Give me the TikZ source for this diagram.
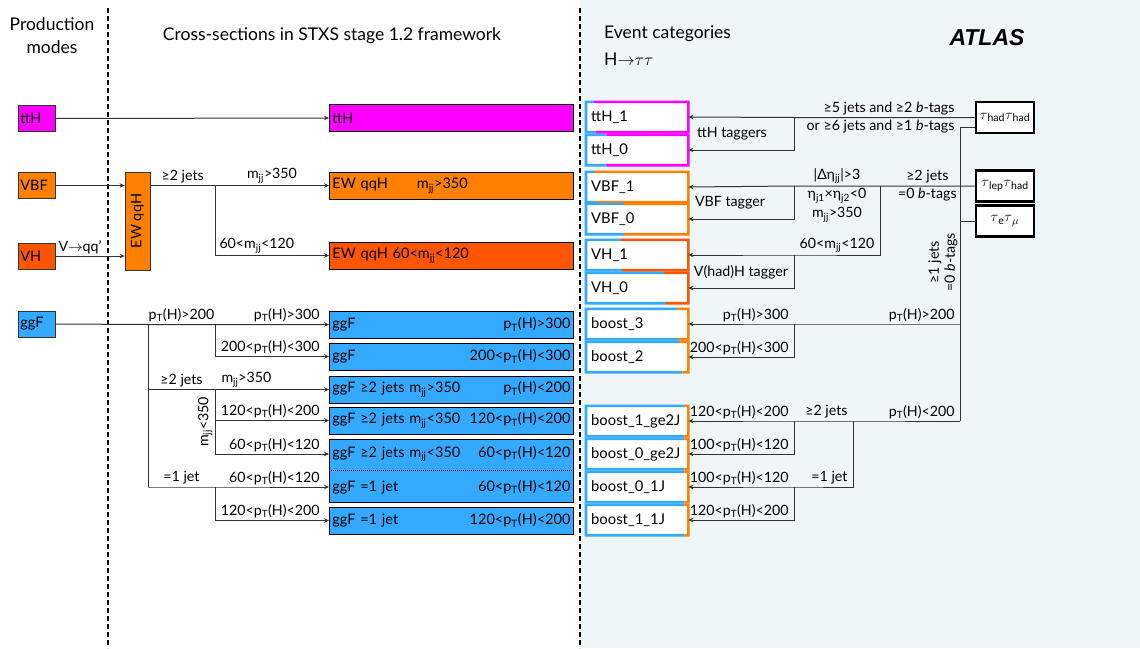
\documentclass[tikz,border=0pt]{standalone}
\usepackage{fontspec}
\setmainfont{Lato}
\newfontfamily\atlasfont{Liberation Sans}
\usetikzlibrary{arrows.meta,calc}

\definecolor{ttHc}{HTML}{FF00FF}
\definecolor{vbfc}{HTML}{FF8000}
\definecolor{vhc}{HTML}{FF5500}
\definecolor{ggFc}{HTML}{33AAFF}
\definecolor{catbg}{HTML}{EEF6F8}
\definecolor{linec}{HTML}{333333}

\newcommand{\pT}{p\textsubscript{T}(H)}
\newcommand{\mjj}{m\textsubscript{jj}}
\newcommand{\decayto}{$\mathord{\rightarrow}$}

\begin{document}
\begin{tikzpicture}
  [x=1pt, y=-1pt, font=\fontsize{14.2}{16}\selectfont,
   conn/.style={draw=linec, line width=1pt},
   arr/.style={conn, -{Stealth[length=5pt,width=4.5pt]}},
   lab/.style={inner sep=2pt, font=\fontsize{14.2}{16}\selectfont},
   endlab/.style={lab, pos=1, anchor=south east, xshift=-7pt},
   startlab/.style={lab, pos=0, anchor=south east, xshift=-3pt},
   head/.style={inner sep=0pt, font=\fontsize{17.5}{23}\selectfont},
   prod/.style={draw=linec, line width=0.8pt, anchor=west, minimum height=26pt,
                text width=33pt, inner xsep=2pt, font=\fontsize{14.5}{16}\selectfont},
   stxs/.style={draw=black, line width=0.8pt, anchor=west, minimum height=27pt,
                text width=238pt, inner xsep=3pt, font=\fontsize{14.5}{16}\selectfont},
   cat/.style={fill=white, anchor=west, minimum height=30pt, text width=92pt,
               inner xsep=5pt, font=\fontsize{14.8}{16}\selectfont},
   catline/.style={line width=2.6pt, line join=miter},
   chan/.style={draw=black, fill=white, line width=2.6pt, minimum width=58pt,
                minimum height=31pt, inner sep=1pt, font=\fontsize{15}{17}\selectfont},
   divider/.style={line width=2pt, dash pattern=on 5pt off 3pt}]

  \useasboundingbox (0,0) rectangle (1140,648);
  \fill[catbg] (580,0) rectangle (1140,648);
  \draw[divider] (108,8) -- (108,648);
  \draw[divider] (580,8) -- (580,648);

  \node[head, align=center] (hprod) at (52,36) {Production\\modes};
  \node[head] (hstxs) at (332,36) {Cross-sections in STXS stage 1.2 framework};
  \node[head, anchor=west] (hcat) at (604,34) {Event categories};
  \node[head, anchor=west] (hdecay) at (604,59) {H\decayto$\tau\tau$};
  \node[inner sep=0pt, font=\atlasfont\fontsize{23}{26}\selectfont\bfseries\itshape] (atlas) at (987,38) {ATLAS};

  % production modes
  \node[prod, fill=ttHc] (ttH) at (18,118.5) {ttH};
  \node[prod, fill=vbfc] (VBF) at (18,185.5) {VBF};
  \node[prod, fill=vhc] (VH) at (18,256) {VH};
  \node[prod, fill=ggFc] (ggF) at (18,324) {ggF};
  \node[draw=linec, line width=0.8pt, fill=vbfc, minimum width=25pt, minimum height=98pt,
        font=\fontsize{14.5}{16}\selectfont] (ewqqh) at (137.5,221) {\rotatebox{90}{EW qqH}};

  % STXS bins
  \node[stxs, fill=ttHc] (sttH) at (329,118) {ttH};
  \node[stxs, fill=vbfc] (ewhi) at (329,185.5) {EW qqH\hspace{2em}\mjj>350};
  \node[stxs, fill=vhc] (ewlo) at (329,255.5) {EW qqH 60<\mjj<120};
  \node[stxs, fill=ggFc] (ggf1) at (329,324.5) {ggF\hfill \pT>300};
  \node[stxs, fill=ggFc] (ggf2) at (329,356.5) {ggF\hfill 200<\pT<300};
  \node[stxs, fill=ggFc] (ggf3) at (329,389.5) {ggF ≥2 jets \mjj>350\hfill \pT<200};
  \node[stxs, fill=ggFc] (ggf4) at (329,420.5) {ggF ≥2 jets \mjj<350\hfill 120<\pT<200};
  \node[stxs, fill=ggFc, minimum height=63pt] (ggfpair) at (329,470.5) {};
  \node[stxs, draw=none] (ggf5) at (329,454) {ggF ≥2 jets \mjj<350\hfill 60<\pT<120};
  \node[stxs, draw=none] (ggf6) at (329,487) {ggF =1 jet\hfill 60<\pT<120};
  \draw[densely dotted, line width=1pt] (ggfpair.west) -- (ggfpair.east);
  \node[stxs, fill=ggFc] (ggf7) at (329,520.5) {ggF =1 jet\hfill 120<\pT<200};

  \draw[arr] (ttH.east) -- (sttH.west);
  \draw[arr] (VBF.east) -- (VBF.east -| ewqqh.west);
  \draw[arr] (VH.east) -- node[lab, above, xshift=-10pt]{V\decayto qq'} (VH.east -| ewqqh.west);

  \coordinate (ewbr) at (215,185.5);
  \draw[arr] (ewqqh.east |- ewhi) -- node[lab, above]{≥2 jets} (ewbr)
     -- node[lab, above]{\mjj>350} (ewhi.west);
  \draw[arr] (ewbr) |- node[lab, pos=0.5, anchor=south west, xshift=2pt]{60<\mjj<120} (ewlo.west);

  \coordinate (gA) at (148,324.5);
  \coordinate (gB) at (215,324.5);
  \coordinate (gC) at (148,389.5);
  \coordinate (gD) at (215,389.5);
  \coordinate (gE) at (148,487);
  \coordinate (gF) at (215,487);
  \draw[arr] (ggF.east) -- (gA) -- node[lab, above]{\pT>200} (gB)
     -- node[endlab]{\pT>300} (ggf1.west);
  \draw[arr] (gB) |- node[endlab]{200<\pT<300} (ggf2.west);
  \draw[conn] (gA) -- (gE);
  \draw[arr] (gC) -- node[lab, above]{≥2 jets} (gD)
     -- node[lab, pos=0, anchor=south west, xshift=4pt]{\mjj>350} (ggf3.west);
  \draw[conn] (gD) -- node[lab, rotate=90, anchor=south]{\mjj<350} (gD |- ggf5);
  \draw[arr] (gD |- ggf4) -- node[endlab]{120<\pT<200} (ggf4.west);
  \draw[arr] (gD |- ggf5) -- node[endlab]{60<\pT<120} (ggf5.west);
  \draw[arr] (gE) -- node[lab, above]{=1 jet} (gF) -- node[endlab]{60<\pT<120} (ggf6.west);
  \draw[arr] (gF) |- node[endlab]{120<\pT<200} (ggf7.west);

  % event categories
  \foreach \nm/\txt/\yy/\ft/\fb/\cl in {
      cttHa/ttH\_1/117/0.08/0.1/ttHc, cttHb/ttH\_0/150/0.2/0.2/ttHc,
      cVBFa/VBF\_1/187/0.08/0.1/vbfc, cVBFb/VBF\_0/219/0.37/0.37/vbfc,
      cVHa/VH\_1/255/0.34/0.35/vhc, cVHb/VH\_0/288/0.76/0.78/vhc,
      cbIII/boost\_3/324/0.89/0.9/vbfc, cbII/boost\_2/357/0.92/0.94/vbfc,
      cbIg/boost\_1\_ge2J/421/0.96/0.96/vbfc, cbOg/boost\_0\_ge2J/454/0.96/0.96/vbfc,
      cbOj/boost\_0\_1J/487/0.96/0.96/vbfc, cbIj/boost\_1\_1J/520/0.96/0.96/vbfc}
  {
    \node[cat] (\nm) at (586,\yy) {\txt};
    \draw[catline, ggFc] ($(\nm.south west)!\fb!(\nm.south east)$) -- (\nm.south west)
       -- (\nm.north west) -- ($(\nm.north west)!\ft!(\nm.north east)$);
    \draw[catline, \cl] ($(\nm.north west)!\ft!(\nm.north east)$) -- (\nm.north east)
       -- (\nm.south east) -- ($(\nm.south west)!\fb!(\nm.south east)$);
  }

  \node[chan] (hadhad) at (1005,117.5) {$\tau$\textsubscript{had}$\tau$\textsubscript{had}};
  \node[chan] (lephad) at (1005,186) {$\tau$\textsubscript{lep}$\tau$\textsubscript{had}};
  \node[chan] (emu) at (1005,221) {$\tau$\textsubscript{e}$\tau$\textsubscript{$\mu$}};

  \coordinate (tB) at (960,117.5);
  \coordinate (tA) at (794,117.5);
  \draw[arr] (hadhad.west) -- (tB)
     -- node[startlab]{≥5 jets and ≥2 \textit{b}-tags}
        node[lab, pos=0, anchor=north east, xshift=-3pt]{or ≥6 jets and ≥1 \textit{b}-tags} (tA)
     -- (cttHa.east);
  \draw[arr] (tA) |- (cttHb.east);
  \node[lab] (tthtag) at (732,134) {ttH taggers};

  \coordinate (vA) at (880,186);
  \coordinate (vB) at (794,186);
  \coordinate (hB) at (794,255);
  \draw[arr] (lephad.west) -- node[lab, above]{≥2 jets} node[lab, below]{=0 \textit{b}-tags} (vA)
     -- node[lab, above]{|Δη\textsubscript{jj}|>3}
        node[lab, below, align=center, font=\fontsize{14.2}{19}\selectfont]{η\textsubscript{j1}×η\textsubscript{j2}<0\\\mjj>350} (vB)
     -- (cVBFa.east);
  \draw[arr] (vB) |- (cVBFb.east);
  \node[lab] (vbftag) at (730,203) {VBF tagger};
  \draw[arr] (vA) -- (vA |- hB) -- node[lab, above]{60<\mjj<120} (hB) -- (cVHa.east);
  \draw[arr] (hB) |- (cVHb.east);
  \node[lab] (vhtag) at (741,272) {V(had)H tagger};

  \coordinate (trtop) at (960,127);
  \coordinate (trbot) at (960,421);
  \draw[conn] (hadhad.west |- trtop) -- (trtop)
     -- node[lab, pos=0.46, rotate=90, anchor=south, align=center]{≥1 jets\\=0 \textit{b}-tags} (trbot);
  \draw[conn] (emu.west) -- (emu.west -| trtop);

  \coordinate (bA) at (794,324);
  \coordinate (bB) at (853,421);
  \coordinate (bC) at (794,421);
  \coordinate (bD) at (853,487);
  \coordinate (bE) at (794,487);
  \draw[arr] (trtop |- bA) -- node[startlab]{\pT>200} (bA)
     -- node[startlab]{\pT>300} (cbIII.east);
  \draw[arr] (bA) |- node[lab, pos=0.5, anchor=south east, xshift=-3pt]{200<\pT<300} (cbII.east);
  \draw[arr] (trbot) -- node[startlab]{\pT<200} (bB) -- node[startlab]{≥2 jets} (bC)
     -- node[startlab]{120<\pT<200} (cbIg.east);
  \draw[arr] (bC) |- node[lab, pos=0.5, anchor=south east, xshift=-3pt]{100<\pT<120} (cbOg.east);
  \draw[arr] (bB) -- (bD) -- node[startlab]{=1 jet} (bE)
     -- node[startlab]{100<\pT<120} (cbOj.east);
  \draw[arr] (bE) |- node[lab, pos=0.5, anchor=south east, xshift=-3pt]{120<\pT<200} (cbIj.east);
\end{tikzpicture}
\end{document}
